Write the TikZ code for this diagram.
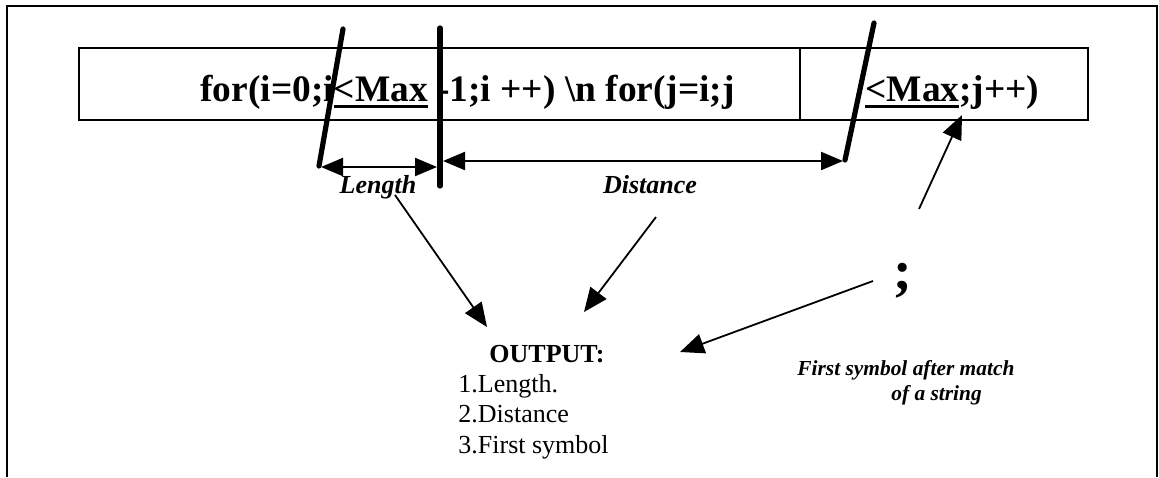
\documentclass[tikz,border=0pt]{standalone}
\usepackage{fontspec}
\setmainfont{Liberation Serif}
\usetikzlibrary{arrows.meta}

% thick underline as in the original
\newcommand\thickul[1]{\setbox0\hbox{#1}\rlap{\raisebox{-3.4pt}{\rule{\wd0}{1.5pt}}}\box0\relax}

\tikzset{
  cut/.style={line width=2.6pt, line cap=round},
  dim/.style={line width=1.1pt, {Triangle[length=11pt,width=9pt]}-{Triangle[length=11pt,width=9pt]}},
  leader/.style={line width=0.9pt, -{Triangle[length=12pt,width=10pt]}},
  code/.style={anchor=base west, inner sep=0pt, font=\fontsize{18.7}{20}\selectfont\bfseries},
  tag/.style={anchor=base, inner sep=0pt, font=\fontsize{13}{15}\selectfont\bfseries\itshape},
  item/.style={anchor=base west, inner sep=0pt, font=\fontsize{13}{15}\selectfont},
  note/.style={anchor=base west, inner sep=0pt, font=\fontsize{10.7}{13}\selectfont\bfseries\itshape},
}

\begin{document}
\begin{tikzpicture}[x=0.5pt, y=-0.5pt]
    \useasboundingbox (0,0) rectangle (1159,477);

    % frame, open at the bottom
    \draw[line width=1pt] (7,477) -- (7,6) -- (1157,6) -- (1157,477);

    % the string
    \draw[line width=0.8pt] (79,48) rectangle (1088,120);
    \draw[line width=0.6pt] (800,48) -- (800,120);
    \node[code] (str1) at (200,101) {for(i=0;i\thickul{<Max} -1;i ++) \textbackslash n for(j=i;j};
    \node[code] (str2) at (865,101) {\thickul{<Max};j++)};

    % cut marks
    \coordinate (c1t) at (343,29);
    \coordinate (c1b) at (319,166);
    \coordinate (c2t) at (440,28);
    \coordinate (c2b) at (440,186);
    \coordinate (c3t) at (874,23);
    \coordinate (c3b) at (845,160);
    \draw[cut] (c1t) -- (c1b);
    \draw[cut] (c2t) -- (c2b);
    \draw[cut] (c3t) -- (c3b);

    % length and distance
    \coordinate (l1) at (321,167);
    \coordinate (l2) at (437,167);
    \coordinate (d1) at (443,161);
    \coordinate (d2) at (843,161);
    \draw[dim] (l1) -- (l2);
    \draw[dim] (d1) -- (d2);
    \node[tag] (len) at (378,193) {Length};
    \node[tag] (dist) at (650,193) {Distance};

    % output list
    \node[anchor=base west, inner sep=0pt, font=\fontsize{13}{15}\selectfont\bfseries] (out) at (489,362) {OUTPUT:};
    \node[item] (o1) at (458,392) {1.Length.};
    \node[item] (o2) at (458,422) {2.Distance};
    \node[item] (o3) at (458,453) {3.First symbol};

    % first symbol
    \node[inner sep=0pt, font=\fontsize{28}{30}\selectfont\bfseries] (semi) at (903,281) {;};
    \node[note] (fs1) at (797,375) {First symbol after match};
    \node[note] (fs2) at (891,400) {of a string};

    % leaders
    \coordinate (s1) at ([xshift=8.5pt,yshift=-1pt]len.base);
    \coordinate (s2) at ([xshift=3pt,yshift=-12pt]dist.base);
    \coordinate (s3) at ([xshift=-15pt,yshift=0pt]semi.center);
    \coordinate (s4) at (919,209);
    \coordinate (t1) at (487,327);
    \coordinate (t2) at (584,312);
    \coordinate (t3) at (680,352);
    \coordinate (t4) at (962,115);
    \draw[leader] (s1) -- (t1);
    \draw[leader] (s2) -- (t2);
    \draw[leader] (s3) -- (t3);
    \draw[leader] (s4) -- (t4);
\end{tikzpicture}
\end{document}
